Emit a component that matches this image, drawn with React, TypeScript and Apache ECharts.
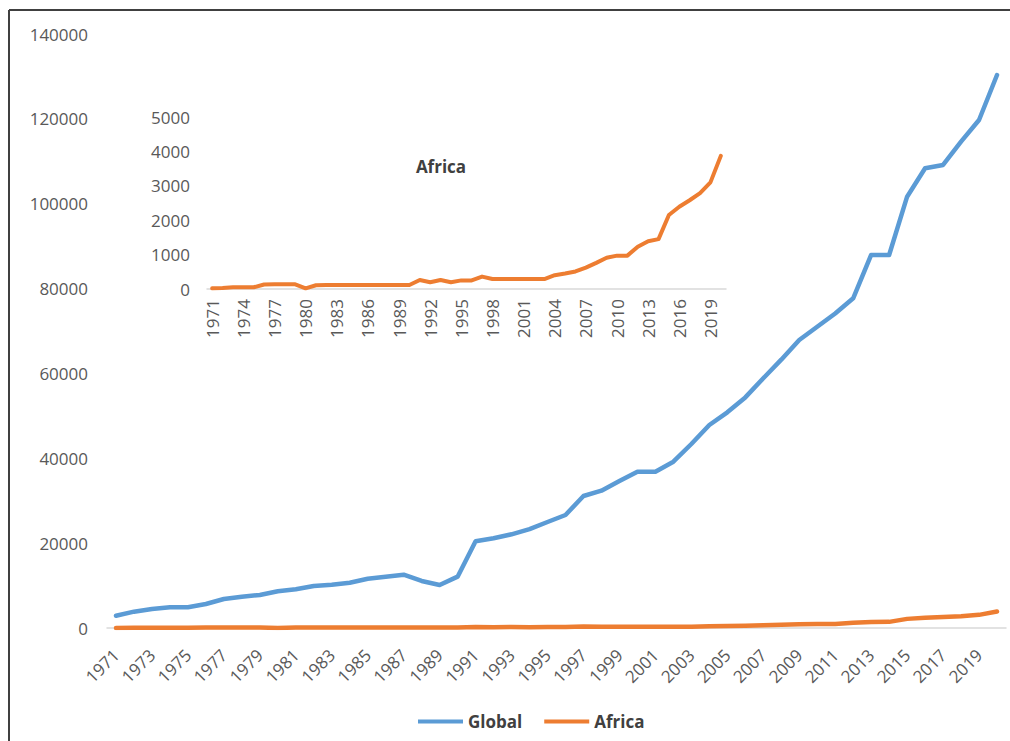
import React, { useEffect, useRef } from "react";
import * as echarts from "echarts";

const years: string[] = [];
for (let y = 1971; y <= 2020; y++) years.push(String(y));

const globalValues = [
  2900, 3850, 4500, 4900, 4900, 5650, 6830, 7380, 7780, 8650,
  9120, 9900, 10200, 10680, 11620, 12100, 12560, 11080, 10130, 12100,
  20430, 21140, 22080, 23290, 24980, 26630, 31110, 32360, 34650, 36840,
  36840, 39200, 43370, 47850, 50840, 54350, 58850, 63240, 67880, 70990,
  74130, 77710, 87920, 87920, 101660, 108350, 109130, 114620, 119740, 130340,
];

const africaValues = [
  20, 30, 50, 50, 50, 130, 135, 135, 135, 20,
  110, 115, 115, 115, 115, 115, 115, 115, 115, 115,
  260, 195, 260, 195, 250, 250, 360, 290, 290, 290,
  290, 290, 290, 400, 450, 510, 620, 760, 910, 970,
  970, 1230, 1390, 1450, 2150, 2390, 2580, 2790, 3100, 3870,
];

const FONT = "'Open Sans', 'Noto Sans', sans-serif";
const BLUE = "#5B9BD5";
const ORANGE = "#ED7D31";
const LABEL = "#595959";
const plain = (v: number) => String(v);

export default function App() {
  const ref = useRef<HTMLDivElement>(null);
  useEffect(() => {
    if (!ref.current) return;
    const chart = echarts.init(ref.current, undefined, { renderer: "svg" });
    chart.setOption({
      animation: false,
      backgroundColor: "#ffffff",
      textStyle: { fontFamily: FONT },
      legend: {
        data: ["Global", "Africa"],
        bottom: 6,
        left: 413,
        icon: "rect",
        itemWidth: 45,
        itemHeight: 4,
        itemGap: 22,
        textStyle: { fontFamily: FONT, fontSize: 17, fontWeight: "bold", color: "#404040" },
      },
      graphic: [
        { type: "line", shape: { x1: 9, y1: 10, x2: 9, y2: 741 }, style: { stroke: "#404040", lineWidth: 2 } },
        { type: "line", shape: { x1: 9, y1: 10, x2: 1010, y2: 10 }, style: { stroke: "#404040", lineWidth: 2 } },
        {
          type: "text",
          x: 441,
          y: 166,
          style: {
            text: "Africa",
            fontFamily: FONT,
            fontSize: 17,
            fontWeight: "bold",
            fill: "#404040",
            textAlign: "center",
            textVerticalAlign: "middle",
          },
          z: 10,
        },
      ],
      grid: [
        { left: 107, right: 4, top: 34, bottom: 113 },
        { left: 207, right: 284, top: 117, bottom: 452 },
      ],
      xAxis: [
        {
          type: "category",
          gridIndex: 0,
          data: years,
          boundaryGap: true,
          axisLine: { lineStyle: { color: "#D9D9D9", width: 1.5 } },
          axisTick: { show: false },
          axisLabel: { interval: 1, rotate: 45, margin: 24, color: LABEL, fontSize: 17, fontFamily: FONT },
        },
        {
          type: "category",
          gridIndex: 1,
          data: years,
          boundaryGap: true,
          axisLine: { lineStyle: { color: "#D9D9D9", width: 1.5 } },
          axisTick: { show: false },
          axisLabel: { interval: 2, rotate: 90, margin: 10, color: LABEL, fontSize: 17, fontFamily: FONT },
        },
      ],
      yAxis: [
        {
          type: "value",
          gridIndex: 0,
          min: 0,
          max: 140000,
          interval: 20000,
          axisLine: { show: false },
          axisTick: { show: false },
          splitLine: { show: false },
          axisLabel: { margin: 19, color: LABEL, fontSize: 17, fontFamily: FONT, formatter: plain },
        },
        {
          type: "value",
          gridIndex: 1,
          min: 0,
          max: 5000,
          interval: 1000,
          axisLine: { show: false },
          axisTick: { show: false },
          splitLine: { show: false },
          axisLabel: { margin: 17, color: LABEL, fontSize: 17, fontFamily: FONT, formatter: plain },
        },
      ],
      series: [
        {
          name: "Global",
          type: "line",
          xAxisIndex: 0,
          yAxisIndex: 0,
          data: globalValues,
          showSymbol: false,
          symbol: "none",
          lineStyle: { color: BLUE, width: 4.5, cap: "round", join: "round" },
          itemStyle: { color: BLUE },
        },
        {
          name: "Africa",
          type: "line",
          xAxisIndex: 0,
          yAxisIndex: 0,
          data: africaValues,
          showSymbol: false,
          symbol: "none",
          lineStyle: { color: ORANGE, width: 4.5, cap: "round", join: "round" },
          itemStyle: { color: ORANGE },
        },
        {
          name: "Africa (inset)",
          type: "line",
          xAxisIndex: 1,
          yAxisIndex: 1,
          data: africaValues,
          showSymbol: false,
          symbol: "none",
          lineStyle: { color: ORANGE, width: 4, cap: "round", join: "round" },
          itemStyle: { color: ORANGE },
        },
      ],
    });
    return () => chart.dispose();
  }, []);
  return <div ref={ref} style={{ width: 1010, height: 741, position: "absolute", left: 0, top: 0 }} />;
}
